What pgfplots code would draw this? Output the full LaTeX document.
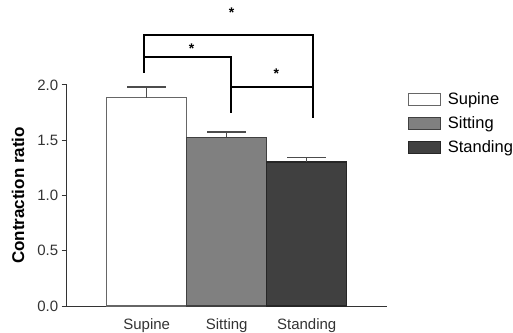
\documentclass[border=0pt]{standalone}
\usepackage{fontspec}
\setmainfont{Liberation Sans}
\usepackage{pgfplots}
\pgfplotsset{compat=1.18}
\begin{document}
\begin{tikzpicture}[x=1pt,y=1pt]
\path[use as bounding box] (0,0) rectangle (513,332);
\begin{axis}[
  at={(66.7pt,26pt)}, anchor=south west,
  scale only axis, width=320pt, height=221pt,
  xmin=-1, xmax=3, ymin=0, ymax=2,
  axis x line*=bottom, axis y line*=left,
  axis line style={-, line width=1pt, color=black!80},
  xtick={0,1,2}, xticklabels={Supine,Sitting,Standing},
  major x tick style={draw=none},
  ytick={0,0.5,1,1.5,2},
  yticklabel style={/pgf/number format/fixed, /pgf/number format/fixed zerofill, /pgf/number format/precision=1},
  /pgf/number format/assume math mode=true,
  major y tick style={line width=1pt, color=black!80},
  tick align=outside, major tick length=5pt,
  ticklabel style={font=\fontsize{15}{18}\selectfont, text=black!80},
  xticklabel style={yshift=-4pt},
  ylabel={\bfseries Contraction ratio},
  ylabel style={font=\fontsize{17}{20}\selectfont, at={(axis description cs:-0.152,0.5)}, anchor=center},
  ybar, bar width=1, clip=false,
  legend style={draw=none, fill=none, at={(1.0655,0.975)}, anchor=north west,
    font=\fontsize{16.5}{19}\selectfont, row sep=6.5pt, inner sep=0pt,
    /tikz/every odd column/.append style={column sep=5pt}},
  legend cell align=left,
  error bars/y dir=plus, error bars/y explicit,
  error bars/error bar style={line width=1.5pt, color=black!70},
  error bars/error mark options={rotate=90, mark size=19.5pt, line width=1.5pt, color=black!70},
]
\pgfplotsset{myleg/.style={legend image code/.code={\draw[##1, line width=1pt] (0pt,-6pt) rectangle (32pt,6pt);}}}
\addplot[bar shift=0pt, fill=white, draw=black!60, line width=1.5pt, myleg] coordinates {(0,1.885) +- (0,0.095)};
\addplot[bar shift=0pt, fill=black!50, draw=black!75, line width=1.2pt, myleg] coordinates {(1,1.527) +- (0,0.048)};
\addplot[bar shift=0pt, fill=black!75, draw=black!85, line width=1.2pt, myleg] coordinates {(2,1.303) +- (0,0.043)};
\legend{Supine,Sitting,Standing}
\draw[line width=2pt, black] (axis cs:-0.035,2.11) -- (axis cs:-0.035,2.455) -- (axis cs:2.084,2.455) -- (axis cs:2.084,1.70);
\draw[line width=2pt, black] (axis cs:-0.035,2.25) -- (axis cs:1.05,2.25) -- (axis cs:1.05,1.75);
\draw[line width=2pt, black] (axis cs:1.05,1.985) -- (axis cs:2.084,1.985);
\node[font=\fontsize{14}{14}\selectfont\bfseries, inner sep=0pt] at (axis cs:1.06,2.65) {*};
\node[font=\fontsize{14}{14}\selectfont\bfseries, inner sep=0pt] at (axis cs:0.56,2.33) {*};
\node[font=\fontsize{14}{14}\selectfont\bfseries, inner sep=0pt] at (axis cs:1.62,2.105) {*};
\end{axis}
\end{tikzpicture}
\end{document}
